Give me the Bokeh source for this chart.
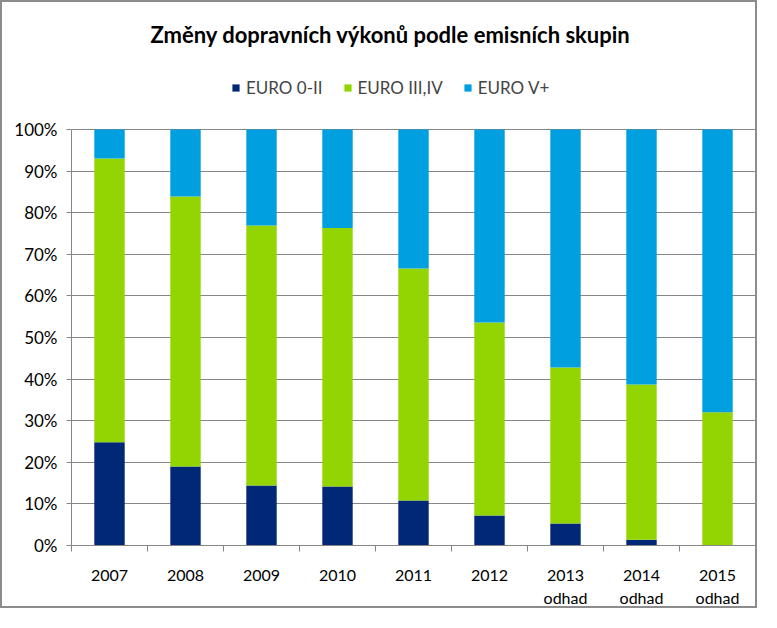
import numpy as np
from bokeh.plotting import figure
from bokeh.models import (ColumnDataSource, Legend, LegendItem, FixedTicker,
                          NumeralTickFormatter, Range1d)
from bokeh.embed import file_html
from bokeh.resources import INLINE

years = ["2007", "2008", "2009", "2010", "2011", "2012", "2013", "2014", "2015"]
tick_labels = ["2007", "2008", "2009", "2010", "2011", "2012",
               "2013\nodhad", "2014\nodhad", "2015\nodhad"]
euro_0_2 = [0.248, 0.190, 0.144, 0.142, 0.108, 0.072, 0.053, 0.014, 0.0]
euro_3_4 = [0.682, 0.649, 0.625, 0.621, 0.558, 0.464, 0.375, 0.373, 0.320]
euro_5 = [round(1 - a - b, 3) for a, b in zip(euro_0_2, euro_3_4)]
series_names = ["EURO 0-II", "EURO III,IV", "EURO V+"]
colors = ["#002876", "#93D500", "#00A0E0"]

FONT = "Lato"
GRID = "#868686"

n = len(years)
xpos = np.arange(n) + 0.5
source = ColumnDataSource(dict(x=xpos, s0=euro_0_2, s1=euro_3_4, s2=euro_5))

# frame extends above 100% so that the legend can sit inside it
p = figure(width=757, height=608, output_backend="svg", toolbar_location=None,
           x_range=Range1d(0, n), y_range=Range1d(0, 1.185),
           min_border_left=69, min_border_right=4, min_border_top=50,
           min_border_bottom=65)
p.styles = {"border": "2px solid #8c8c8c"}
p.outline_line_color = None
p.background_fill_color = "white"
p.border_fill_color = "white"

renderers = p.vbar_stack(["s0", "s1", "s2"], x="x", width=0.4, source=source,
                         color=colors, line_color=None)

# title
p.title.text = "Změny dopravních výkonů podle emisních skupin"
p.title.align = "left"
p.title.offset = 79
p.title.text_font = FONT
p.title.text_font_size = "22px"
p.title.text_font_style = "bold"
p.title.text_color = "black"

legend = Legend(items=[LegendItem(label=nm, renderers=[r])
                       for nm, r in zip(series_names, renderers)],
                orientation="horizontal", location=(160, 447))
legend.glyph_width = 9
legend.glyph_height = 9
legend.label_text_font = FONT
legend.label_text_font_size = "17px"
legend.label_standoff = 6
legend.spacing = 20
legend.border_line_color = None
legend.background_fill_alpha = 0
legend.padding = 4
legend.margin = 0
p.add_layout(legend)

# y axis
p.yaxis.ticker = FixedTicker(ticks=[i / 10 for i in range(11)])
p.yaxis.bounds = (0, 1)
p.yaxis.formatter = NumeralTickFormatter(format="0%")
p.yaxis.axis_line_color = GRID
p.yaxis.major_tick_line_color = GRID
p.yaxis.major_tick_out = 5
p.yaxis.major_tick_in = 0
p.yaxis.minor_tick_line_color = None
p.yaxis.major_label_text_font = FONT
p.yaxis.major_label_text_font_size = "17px"
p.yaxis.major_label_text_color = "black"
p.yaxis.major_label_standoff = 9
p.ygrid.grid_line_color = GRID
p.ygrid.grid_line_width = 1

# x axis: labels at centres, ticks at category boundaries
p.xaxis.ticker = FixedTicker(ticks=list(xpos), minor_ticks=list(range(n + 1)))
p.xaxis.major_label_overrides = {float(x): lab for x, lab in zip(xpos, tick_labels)}
p.xaxis.major_tick_line_color = None
p.xaxis.minor_tick_line_color = GRID
p.xaxis.minor_tick_out = 6
p.xaxis.minor_tick_in = 0
p.xaxis.axis_line_color = GRID
p.xaxis.major_label_text_font = FONT
p.xaxis.major_label_text_font_size = "16px"
p.xaxis.major_label_text_color = "black"
p.xaxis.major_label_standoff = 13
p.xaxis.major_label_text_line_height = 1.25
p.xgrid.grid_line_color = None

open("out.html", "w").write(file_html(p, INLINE))
